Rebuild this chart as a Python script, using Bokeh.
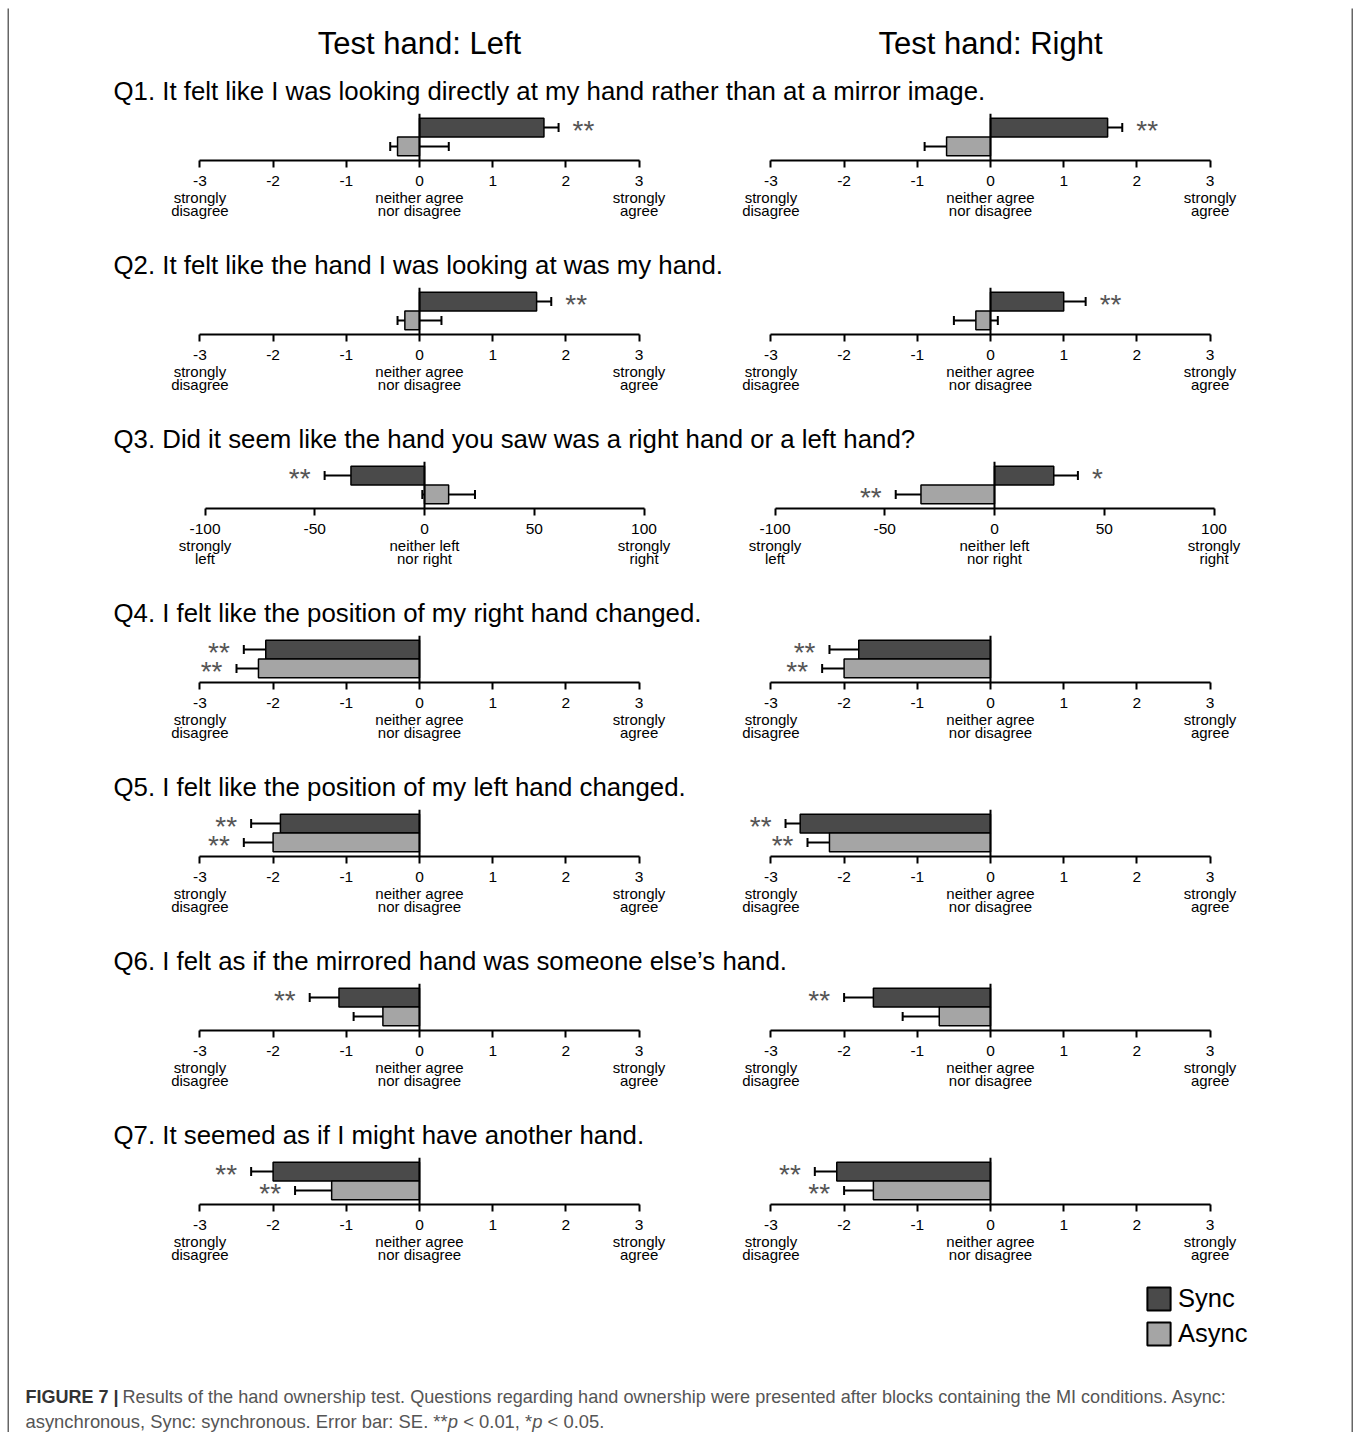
import numpy as np
from bokeh.plotting import figure
from bokeh.models import (ColumnDataSource, Range1d, FixedTicker, LinearAxis, Span,
                          Whisker, TeeHead, Label, Legend, LegendItem)
from bokeh.layouts import column, row
from bokeh.embed import file_html
from bokeh.resources import INLINE
from bokeh.core.properties import value

FONT = "Liberation Sans"

hands = ["Left", "Right"]
questions = [
    "Q1. It felt like I was looking directly at my hand rather than at a mirror image.",
    "Q2. It felt like the hand I was looking at was my hand.",
    "Q3. Did it seem like the hand you saw was a right hand or a left hand?",
    "Q4. I felt like the position of my right hand changed.",
    "Q5. I felt like the position of my left hand changed.",
    "Q6. I felt as if the mirrored hand was someone else\u2019s hand.",
    "Q7. It seemed as if I might have another hand.",
]
conditions = ["Sync", "Async"]

# Test hand: Left
sync_mean_left = [1.7, 1.6, -33.5, -2.1, -1.9, -1.1, -2.0]
sync_lo_left = [1.5, 1.4, -45.5, -2.4, -2.3, -1.5, -2.3]
sync_hi_left = [1.9, 1.8, -21.5, -1.8, -1.5, -0.7, -1.7]
async_mean_left = [-0.3, -0.2, 11.0, -2.2, -2.0, -0.5, -1.2]
async_lo_left = [-0.4, -0.3, -1.0, -2.5, -2.4, -0.9, -1.7]
async_hi_left = [0.4, 0.3, 23.0, -1.9, -1.6, -0.1, -0.7]
sync_sig_left = ["**", "**", "**", "**", "**", "**", "**"]
async_sig_left = ["", "", "", "**", "**", "", "**"]

# Test hand: Right
sync_mean_right = [1.6, 1.0, 27.0, -1.8, -2.6, -1.6, -2.1]
sync_lo_right = [1.4, 0.7, 15.5, -2.2, -2.8, -2.0, -2.4]
sync_hi_right = [1.8, 1.3, 38.0, -1.4, -2.4, -1.2, -1.8]
async_mean_right = [-0.6, -0.2, -33.5, -2.0, -2.2, -0.7, -1.6]
async_lo_right = [-0.9, -0.5, -45.0, -2.3, -2.5, -1.2, -2.0]
async_hi_right = [-0.3, 0.1, -21.5, -1.7, -1.9, -0.2, -1.2]
sync_sig_right = ["**", "**", "*", "**", "**", "**", "**"]
async_sig_right = ["", "", "**", "**", "**", "", "**"]

likert_ticks = [-3, -2, -1, 0, 1, 2, 3]
likert_tick_labels = ["-3", "-2", "-1", "0", "1", "2", "3"]
likert_anchor_ticks = [-3, 0, 3]
likert_anchor_labels = ["strongly\ndisagree", "neither agree\nnor disagree", "strongly\nagree"]
lr_ticks = [-100, -50, 0, 50, 100]
lr_tick_labels = ["-100", "-50", "0", "50", "100"]
lr_anchor_ticks = [-100, 0, 100]
lr_anchor_labels = ["strongly\nleft", "neither left\nnor right", "strongly\nright"]

caption_bold = "FIGURE 7 |"
caption_line1 = ("Results of the hand ownership test. Questions regarding hand ownership were "
                 "presented after blocks containing the MI conditions. Async:")
# second caption line, split so that the p's can be italic
caption_line2_parts = ["asynchronous, Sync: synchronous. Error bar: SE. **", "p",
                       "< 0.01, *", "p", "< 0.05."]
caption_line2_italic = [False, True, False, True, False]

SYNC_COLOR = "#4a4a4a"
ASYNC_COLOR = "#a5a5a5"

data = {
    "Left": (sync_mean_left, sync_lo_left, sync_hi_left, sync_sig_left,
             async_mean_left, async_lo_left, async_hi_left, async_sig_left),
    "Right": (sync_mean_right, sync_lo_right, sync_hi_right, sync_sig_right,
              async_mean_right, async_lo_right, async_hi_right, async_sig_right),
}

PW = 671  # panel width
# layout: pixel position of zero and pixels per unit for each column
LIK_ZERO = {"Left": 410, "Right": 310}
LR_ZERO = {"Left": 415, "Right": 314}
LIK_PPU = 73.2
LR_PPU = 2.195


def xr(zero, ppu):
    return Range1d(-zero / ppu, (PW - zero) / ppu)


def bare(width, height, x_range=None, y_range=None, fill="white"):
    p = figure(width=width, height=height, output_backend="svg", toolbar_location=None,
               x_range=x_range or Range1d(0, 1), y_range=y_range or Range1d(0, 1),
               x_axis_location=None, y_axis_location=None,
               min_border_left=0, min_border_right=0, min_border_top=0, min_border_bottom=0,
               background_fill_color=fill, border_fill_color=fill)
    p.outline_line_color = None
    p.xgrid.visible = False
    p.ygrid.visible = False
    return p


def panel(qi, hand):
    lr = (qi == 2)
    zero = (LR_ZERO if lr else LIK_ZERO)[hand]
    ppu = LR_PPU if lr else LIK_PPU
    ticks = lr_ticks if lr else likert_ticks
    tlabels = lr_tick_labels if lr else likert_tick_labels
    aticks = lr_anchor_ticks if lr else likert_anchor_ticks
    alabels = lr_anchor_labels if lr else likert_anchor_labels

    p = figure(width=PW, height=127, output_backend="svg", toolbar_location=None,
               x_range=xr(zero, ppu), y_range=Range1d(-0.25, 2.25),
               x_axis_location=None, y_axis_location=None,
               min_border_left=0, min_border_right=0, min_border_top=0, min_border_bottom=80)
    p.outline_line_color = None
    p.xgrid.visible = False
    p.ygrid.visible = False

    ax = LinearAxis(ticker=FixedTicker(ticks=ticks),
                    major_label_overrides={t: l for t, l in zip(ticks, tlabels)},
                    bounds=(ticks[0], ticks[-1]),
                    axis_line_width=2, axis_line_color="black",
                    major_tick_line_width=2, major_tick_line_color="black",
                    major_tick_in=0, major_tick_out=7,
                    minor_tick_line_color=None, major_label_standoff=8,
                    major_label_text_font=FONT, major_label_text_font_size="15.5px",
                    major_label_text_color="black")
    p.add_layout(ax, "below")
    ax2 = LinearAxis(ticker=FixedTicker(ticks=aticks),
                     major_label_overrides={t: l for t, l in zip(aticks, alabels)},
                     axis_line_color=None, major_tick_line_color=None,
                     minor_tick_line_color=None, major_tick_in=0, major_tick_out=0,
                     major_label_standoff=0,
                     major_label_text_font=FONT, major_label_text_font_size="15px",
                     major_label_text_color="black", major_label_text_line_height=0.77)
    p.add_layout(ax2, "below")

    sm, slo, shi, ssig, am, alo, ahi, asig = data[hand]
    means = [sm[qi], am[qi]]
    los = [slo[qi], alo[qi]]
    his = [shi[qi], ahi[qi]]
    sigs = [ssig[qi], asig[qi]]
    pos = [m > 0 for m in means]
    src = ColumnDataSource(dict(
        y=[1.5, 0.5], mean=means, lo=los, hi=his,
        color=[SYNC_COLOR, ASYNC_COLOR], sig=sigs,
        sx=[h if ps else l for h, l, ps in zip(his, los, pos)],
        xoff=[14 if ps else -14 for ps in pos],
        align=["left" if ps else "right" for ps in pos],
    ))
    p.hbar(y="y", left=0, right="mean", height=1, fill_color="color",
           line_color="black", line_width=1.5, source=src)
    p.add_layout(Span(location=0, dimension="height", line_color="black", line_width=2))
    p.add_layout(Whisker(source=src, base="y", lower="lo", upper="hi", dimension="width",
                         line_color="black", line_width=2,
                         upper_head=TeeHead(size=9, line_width=2, line_color="black"),
                         lower_head=TeeHead(size=9, line_width=2, line_color="black")))
    p.text(x="sx", y="y", text="sig", x_offset="xoff", y_offset=3, text_align="align",
           text_baseline="middle", text_font=value(FONT), text_font_size="28px",
           text_color="#555555", source=src)
    return p


children = []
# header
hdr = []
for hand in hands:
    h = bare(PW, 58, x_range=xr(LIK_ZERO[hand], LIK_PPU))
    h.add_layout(Label(x=0, y=23, x_units="data", y_units="screen",
                       text=f"Test hand: {hand}", text_align="center", text_baseline="middle",
                       text_font=FONT, text_font_size="31px", text_color="black"))
    hdr.append(h)
children.append(row(*hdr))

for qi, q in enumerate(questions):
    t = bare(2 * PW, 47)
    t.add_layout(Label(x=104, y=23, x_units="screen", y_units="screen", text=q,
                       text_align="left", text_baseline="middle",
                       text_font=FONT, text_font_size="25.8px", text_color="black"))
    children.append(t)
    children.append(row(*[panel(qi, hand) for hand in hands]))

# legend (hidden renderers only provide the swatch styles)
lg = bare(2 * PW, 76)
rs = []
for cond, col in zip(conditions, [SYNC_COLOR, ASYNC_COLOR]):
    r = lg.hbar(y=[0.5], left=[0.5], right=[0.5], height=0.1, fill_color=col,
                line_color="black", line_width=2)
    r.visible = False
    rs.append(r)
legend = Legend(items=[LegendItem(label=c, renderers=[r]) for c, r in zip(conditions, rs)],
                location=(1135, 12), margin=0, padding=0, spacing=6,
                glyph_width=29, glyph_height=29, label_height=29, label_standoff=5,
                label_text_font=FONT, label_text_font_size="25.5px", label_text_color="black",
                border_line_color=None, background_fill_alpha=0,
                inactive_fill_alpha=0)
lg.add_layout(legend, "center")
children.append(lg)

# caption
CAP_SIZE = 18.4
cp = bare(2 * PW, 72)
cp.add_layout(Label(x=16, y=36, x_units="screen", y_units="screen", text=caption_bold,
                    text_baseline="middle", text_font=FONT, text_font_size="18px",
                    text_font_style="bold", text_color="#333333"))
cp.add_layout(Label(x=113, y=36, x_units="screen", y_units="screen", text=caption_line1,
                    text_baseline="middle", text_font=FONT, text_font_size="18.1px",
                    text_color="#555555"))
# x positions of the pieces (layout, from Arial advance widths in em)
cap2_x = [16, 16 + 22.954 * CAP_SIZE, 16 + 23.788 * CAP_SIZE,
          16 + 27.541 * CAP_SIZE, 16 + 28.375 * CAP_SIZE]
for txt, it, x in zip(caption_line2_parts, caption_line2_italic, cap2_x):
    cp.add_layout(Label(x=x, y=11, x_units="screen", y_units="screen", text=txt,
                        text_baseline="middle", text_font=FONT,
                        text_font_size=f"{CAP_SIZE}px",
                        text_font_style="italic" if it else "normal",
                        text_color="#555555"))
children.append(cp)

inner = column(*children)
INNER_H = 58 + len(questions) * (47 + 127) + 76 + 72
frame_top = bare(2 * PW + 4, 2, fill="#8a8a8a")
frame_left = bare(2, INNER_H, fill="#666666")
frame_right = bare(2, INNER_H, fill="#666666")

layout = column(frame_top, row(frame_left, inner, frame_right),
                styles={"margin-left": "7px", "margin-top": "6px"})

open("out.html", "w").write(file_html(layout, INLINE))
